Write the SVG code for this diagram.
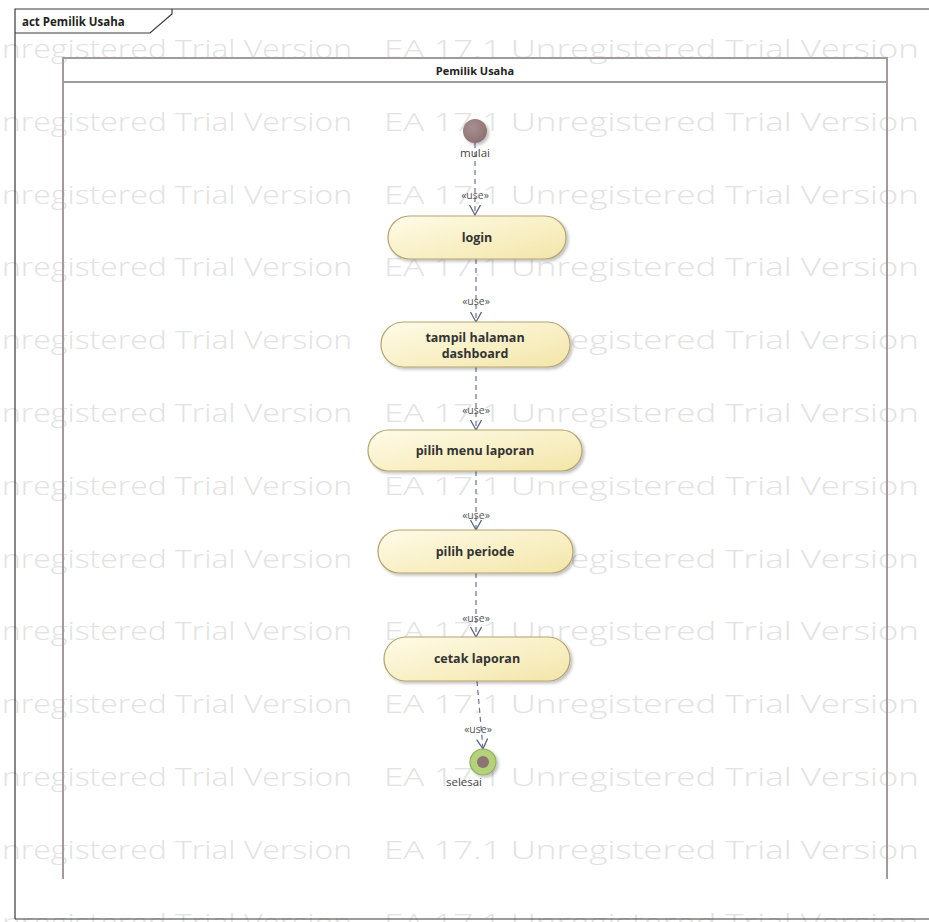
<svg xmlns="http://www.w3.org/2000/svg" width="929" height="922" viewBox="0 0 929 922">
<defs>
<linearGradient id="nodeFill" x1="0" y1="0" x2="1" y2="1">
<stop offset="0" stop-color="#fffbe8"/>
<stop offset="1" stop-color="#f3e6a9"/>
</linearGradient>
<radialGradient id="startFill" cx="0.4" cy="0.35" r="0.7">
<stop offset="0" stop-color="#a88f8f"/>
<stop offset="1" stop-color="#8c7171"/>
</radialGradient>
<filter id="shadow" x="-10%" y="-20%" width="130%" height="160%">
<feDropShadow dx="2" dy="2" stdDeviation="1.5" flood-color="#000" flood-opacity="0.25"/>
</filter>
<marker id="openArrow" markerWidth="14" markerHeight="14" refX="11" refY="6" orient="auto" markerUnits="userSpaceOnUse">
<path d="M1,0.5 L11,6 L1,11.5" fill="none" stroke="#5d6385" stroke-width="1.3"/>
</marker>
</defs>
<style>
.wm{font-family:"Open Sans","Noto Sans",sans-serif;font-size:26px;font-weight:300;fill:#e2e2e2;}
.frame{fill:none;stroke:#3a3a3a;stroke-width:1.2;}
.lane{fill:none;stroke:#a39b9b;stroke-width:2;}
.title{font-family:"Open Sans","Noto Sans",sans-serif;font-size:11.5px;font-weight:bold;fill:#222;}
.node rect{fill:url(#nodeFill);stroke:#b3a46e;stroke-width:1.2;filter:url(#shadow);}
.ntext{font-family:"Open Sans","Noto Sans",sans-serif;font-size:12.5px;font-weight:bold;fill:#333;text-anchor:middle;}
.lbl{font-family:"Open Sans","Noto Sans",sans-serif;font-size:11.5px;fill:#444;text-anchor:middle;}
.st{font-family:"Open Sans","Noto Sans",sans-serif;font-size:10.5px;fill:#555;text-anchor:middle;}
.conn{fill:none;stroke:#6d7292;stroke-width:1.2;stroke-dasharray:5,4;marker-end:url(#openArrow);}
</style>
<rect x="0" y="0" width="929" height="922" fill="#ffffff"/>
<g id="watermark">
<text class="wm" x="-21" y="58" textLength="373" lengthAdjust="spacingAndGlyphs">Unregistered Trial Version</text><text class="wm" x="384" y="58" textLength="535" lengthAdjust="spacingAndGlyphs">EA 17.1 Unregistered Trial Version</text>
<text class="wm" x="-21" y="131" textLength="373" lengthAdjust="spacingAndGlyphs">Unregistered Trial Version</text><text class="wm" x="384" y="131" textLength="535" lengthAdjust="spacingAndGlyphs">EA 17.1 Unregistered Trial Version</text>
<text class="wm" x="-21" y="204" textLength="373" lengthAdjust="spacingAndGlyphs">Unregistered Trial Version</text><text class="wm" x="384" y="204" textLength="535" lengthAdjust="spacingAndGlyphs">EA 17.1 Unregistered Trial Version</text>
<text class="wm" x="-21" y="276" textLength="373" lengthAdjust="spacingAndGlyphs">Unregistered Trial Version</text><text class="wm" x="384" y="276" textLength="535" lengthAdjust="spacingAndGlyphs">EA 17.1 Unregistered Trial Version</text>
<text class="wm" x="-21" y="349" textLength="373" lengthAdjust="spacingAndGlyphs">Unregistered Trial Version</text><text class="wm" x="384" y="349" textLength="535" lengthAdjust="spacingAndGlyphs">EA 17.1 Unregistered Trial Version</text>
<text class="wm" x="-21" y="422" textLength="373" lengthAdjust="spacingAndGlyphs">Unregistered Trial Version</text><text class="wm" x="384" y="422" textLength="535" lengthAdjust="spacingAndGlyphs">EA 17.1 Unregistered Trial Version</text>
<text class="wm" x="-21" y="495" textLength="373" lengthAdjust="spacingAndGlyphs">Unregistered Trial Version</text><text class="wm" x="384" y="495" textLength="535" lengthAdjust="spacingAndGlyphs">EA 17.1 Unregistered Trial Version</text>
<text class="wm" x="-21" y="568" textLength="373" lengthAdjust="spacingAndGlyphs">Unregistered Trial Version</text><text class="wm" x="384" y="568" textLength="535" lengthAdjust="spacingAndGlyphs">EA 17.1 Unregistered Trial Version</text>
<text class="wm" x="-21" y="640" textLength="373" lengthAdjust="spacingAndGlyphs">Unregistered Trial Version</text><text class="wm" x="384" y="640" textLength="535" lengthAdjust="spacingAndGlyphs">EA 17.1 Unregistered Trial Version</text>
<text class="wm" x="-21" y="713" textLength="373" lengthAdjust="spacingAndGlyphs">Unregistered Trial Version</text><text class="wm" x="384" y="713" textLength="535" lengthAdjust="spacingAndGlyphs">EA 17.1 Unregistered Trial Version</text>
<text class="wm" x="-21" y="786" textLength="373" lengthAdjust="spacingAndGlyphs">Unregistered Trial Version</text><text class="wm" x="384" y="786" textLength="535" lengthAdjust="spacingAndGlyphs">EA 17.1 Unregistered Trial Version</text>
<text class="wm" x="-21" y="859" textLength="373" lengthAdjust="spacingAndGlyphs">Unregistered Trial Version</text><text class="wm" x="384" y="859" textLength="535" lengthAdjust="spacingAndGlyphs">EA 17.1 Unregistered Trial Version</text>
<text class="wm" x="-21" y="932" textLength="373" lengthAdjust="spacingAndGlyphs">Unregistered Trial Version</text><text class="wm" x="384" y="932" textLength="535" lengthAdjust="spacingAndGlyphs">EA 17.1 Unregistered Trial Version</text>
</g>
<g id="frame">
<path class="frame" d="M15,919 L15,9 L929,9"/>
<path class="frame" d="M15,919 L929,919"/>
<path class="frame" d="M15,33 L150,33 L172,14 L172,9"/>
<text class="title" x="22" y="26">act Pemilik Usaha</text>
</g>
<g id="lane">
<path class="lane" d="M63,879 L63,58 L887,58 L887,879"/>
<line class="lane" x1="63" y1="82" x2="887" y2="82"/>
<text class="title" x="475" y="75" text-anchor="middle" style="font-size:11px">Pemilik Usaha</text>
</g>
<g id="connectors">
<line class="conn" x1="475" y1="143" x2="475" y2="215"/>
<text class="st" x="475" y="199">«use»</text>
<line class="conn" x1="476" y1="259" x2="476" y2="322"/>
<text class="st" x="476" y="305">«use»</text>
<line class="conn" x1="476" y1="367" x2="476" y2="430"/>
<text class="st" x="476" y="414">«use»</text>
<line class="conn" x1="476" y1="471" x2="476" y2="530"/>
<text class="st" x="476" y="519">«use»</text>
<line class="conn" x1="476" y1="573" x2="476" y2="637"/>
<text class="st" x="476" y="622">«use»</text>
<line class="conn" x1="477" y1="681" x2="483" y2="749"/>
<text class="st" x="478" y="733">«use»</text>
</g>
<g id="start">
<circle cx="475" cy="131" r="12" fill="url(#startFill)" filter="url(#shadow)"/>
<text class="lbl" x="475" y="157">mulai</text>
</g>
<g id="n-login" class="node">
<rect x="388" y="216" width="178" height="43" rx="21.5"/>
<text class="ntext" x="477" y="242">login</text>
</g>
<g id="n-dashboard" class="node">
<rect x="381" y="322" width="189" height="45" rx="22.5"/>
<text class="ntext" x="475" y="342">tampil halaman</text>
<text class="ntext" x="475" y="358">dashboard</text>
</g>
<g id="n-menu" class="node">
<rect x="368" y="430" width="214" height="41" rx="20.5"/>
<text class="ntext" x="475" y="455">pilih menu laporan</text>
</g>
<g id="n-periode" class="node">
<rect x="378" y="530" width="195" height="43" rx="21.5"/>
<text class="ntext" x="475" y="556">pilih periode</text>
</g>
<g id="n-cetak" class="node">
<rect x="384" y="637" width="186" height="44" rx="22"/>
<text class="ntext" x="477" y="663">cetak laporan</text>
</g>
<g id="end">
<circle cx="483" cy="762" r="13" fill="#b4d27a" stroke="#8fae5c" stroke-width="1.2" filter="url(#shadow)"/>
<circle cx="483" cy="762" r="6" fill="#8c7474"/>
<text class="lbl" x="464" y="786">selesai</text>
</g>
</svg>
